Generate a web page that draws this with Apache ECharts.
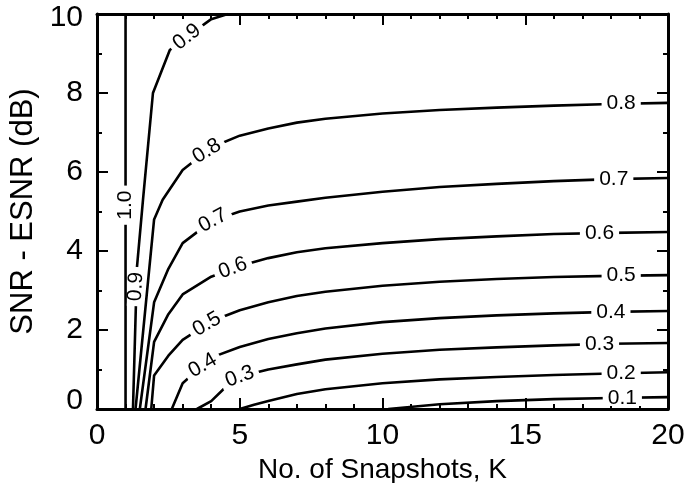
<!DOCTYPE html>
<html><head><meta charset="utf-8">
<script src="https://cdn.jsdelivr.net/npm/echarts@6/dist/echarts.min.js"></script>
<style>html,body{margin:0;padding:0;background:#fff}#c{width:686px;height:483px}</style>
</head><body><div id="c"></div>
<script>
// Contour lines: K (snapshots) and SNR-ESNR (dB) values per level
const K_10 = [1, 1];
const Y_10 = [0, 10];
const K_09 = [1.26, 1.40, 1.61, 1.96, 2.55, 3, 4, 4.58];
const Y_09 = [0, 3.59, 5.29, 8.0, 9.09, 9.34, 9.87, 10];
const K_08 = [1.35, 2, 2.3, 3, 4, 5, 6, 7, 8, 10, 12, 14, 16, 18, 20];
const Y_08 = [0, 4.8, 5.3, 6.05, 6.62, 6.92, 7.1, 7.25, 7.35, 7.48, 7.57, 7.63, 7.68, 7.72, 7.75];
const K_07 = [1.5, 2, 2.5, 3, 4, 5, 6, 7, 8, 10, 12, 14, 16, 18, 20];
const Y_07 = [0, 2.7, 3.55, 4.2, 4.75, 5.0, 5.15, 5.25, 5.35, 5.5, 5.62, 5.7, 5.77, 5.82, 5.85];
const K_06 = [1.7, 2, 2.5, 3, 4, 5, 6, 7, 8, 10, 12, 14, 16, 18, 20];
const Y_06 = [0, 1.7, 2.4, 2.9, 3.35, 3.62, 3.82, 3.97, 4.07, 4.2, 4.3, 4.37, 4.43, 4.46, 4.48];
const K_05 = [1.9, 2, 2.5, 3, 4, 5, 6, 7, 8, 10, 12, 14, 16, 18, 20];
const Y_05 = [0, 0.85, 1.35, 1.75, 2.22, 2.5, 2.7, 2.86, 2.97, 3.12, 3.22, 3.29, 3.34, 3.37, 3.39];
const K_04 = [2.62, 3, 4, 5, 6, 7, 8, 10, 12, 14, 16, 18, 20];
const Y_04 = [0, 0.65, 1.3, 1.57, 1.77, 1.92, 2.04, 2.2, 2.3, 2.37, 2.42, 2.46, 2.48];
const K_03 = [3.5, 4, 4.5, 5, 6, 7, 8, 10, 12, 14, 16, 18, 20];
const Y_03 = [0, 0.2, 0.55, 0.82, 1.0, 1.13, 1.25, 1.4, 1.5, 1.56, 1.61, 1.65, 1.67];
const K_02 = [5, 5.5, 6, 7, 8, 10, 12, 14, 16, 18, 20];
const Y_02 = [0, 0.11, 0.2, 0.38, 0.5, 0.65, 0.75, 0.81, 0.86, 0.9, 0.93];
const K_01 = [10.2, 12, 14, 16, 18, 20];
const Y_01 = [0, 0.12, 0.2, 0.25, 0.28, 0.3];

// Contour label annotations
const labText = ['1.0', '0.9', '0.9', '0.8', '0.7', '0.6', '0.5', '0.4', '0.3',
                 '0.8', '0.7', '0.6', '0.5', '0.4', '0.3', '0.2', '0.1'];
const labK =    [1.0, 1.36, 3.15, 3.85, 4.06, 4.76, 3.85, 3.7, 5.0,
                 18.36, 18.1, 17.6, 18.36, 18.0, 17.6, 18.36, 18.4];
const labY =    [5.16, 3.1, 9.42, 6.53, 4.77, 3.57, 2.15, 1.1, 0.82,
                 7.73, 5.83, 4.46, 3.38, 2.46, 1.64, 0.9, 0.28];
const labRot =  [90, 87, 38, 32, 28, 20, 30, 30, 20,
                 0, 0, 0, 0, 0, 0, 0, 0];

const xTicks = [0, 5, 10, 15, 20];
const yTicks = [0, 2, 4, 6, 8, 10];

const FONT = '"Liberation Sans", Arial, Helvetica, sans-serif';

const contours = [
  [K_10, Y_10], [K_09, Y_09], [K_08, Y_08], [K_07, Y_07], [K_06, Y_06],
  [K_05, Y_05], [K_04, Y_04], [K_03, Y_03], [K_02, Y_02], [K_01, Y_01]
];

const series = contours.map(([ks, ys]) => ({
  type: 'line',
  data: ks.map((k, i) => [k, ys[i]]),
  showSymbol: false,
  symbol: 'none',
  silent: true,
  clip: true,
  lineStyle: { color: '#000', width: 2.6 },
  z: 2
}));

series.push({
  type: 'scatter',
  symbolSize: 0,
  silent: true,
  z: 5,
  itemStyle: { opacity: 1, color: '#000' },
  data: labText.map((t, i) => ({
    value: [labK[i], labY[i]],
    label: {
      show: true,
      position: 'inside',
      formatter: t,
      rotate: labRot[i],
      color: '#000',
      opacity: 1,
      fontSize: 21,
      fontFamily: FONT,
      lineHeight: 16,
      backgroundColor: '#fff',
      padding: [0, 5]
    }
  }))
});

const axisCommon = {
  axisLine: { show: true, onZero: false, lineStyle: { color: '#000', width: 3 } },
  axisTick: { show: true, inside: true, length: 11, lineStyle: { color: '#000', width: 2 } },
  minorTick: { show: true, length: 5, lineStyle: { color: '#000', width: 2 } },
  splitLine: { show: false },
  minorSplitLine: { show: false }
};

const chart = echarts.init(document.getElementById('c'), null, { renderer: 'canvas' });
chart.setOption({
  backgroundColor: '#fff',
  animation: false,
  grid: { left: 97, right: 18, top: 14, bottom: 74, containLabel: false, outerBoundsMode: 'none' },
  xAxis: [
    Object.assign({}, axisCommon, {
      type: 'value', position: 'bottom', min: xTicks[0], max: xTicks[xTicks.length - 1], interval: 5,
      minorTick: Object.assign({}, axisCommon.minorTick, { splitNumber: 5 }),
      axisLabel: { color: '#000', fontSize: 30, fontFamily: FONT, margin: 12 },
      name: 'No. of Snapshots, K', nameLocation: 'middle', nameGap: 41,
      nameTextStyle: { color: '#000', fontSize: 28, fontFamily: FONT }
    }),
    Object.assign({}, axisCommon, {
      type: 'value', position: 'top', min: xTicks[0], max: xTicks[xTicks.length - 1], interval: 5,
      minorTick: Object.assign({}, axisCommon.minorTick, { splitNumber: 5 }),
      axisLabel: { show: false }
    })
  ],
  yAxis: [
    Object.assign({}, axisCommon, {
      type: 'value', position: 'left', min: yTicks[0], max: yTicks[yTicks.length - 1], interval: 2,
      minorTick: Object.assign({}, axisCommon.minorTick, { splitNumber: 2 }),
      axisLabel: {
        color: '#000', fontSize: 30, fontFamily: FONT, margin: 14,
        formatter: v => v === 0 ? '{lo|0}' : (v === 10 ? '{hi|10}' : String(v)),
        rich: {
          lo: { fontSize: 30, fontFamily: FONT, color: '#000', padding: [0, 0, 16, 0] },
          hi: { fontSize: 30, fontFamily: FONT, color: '#000', padding: [8, 0, 0, 0] }
        }
      },
      name: 'SNR - ESNR (dB)', nameLocation: 'middle', nameGap: 50, nameRotate: 90,
      nameTextStyle: { color: '#000', fontSize: 31, fontFamily: FONT }
    }),
    Object.assign({}, axisCommon, {
      type: 'value', position: 'right', min: yTicks[0], max: yTicks[yTicks.length - 1], interval: 2,
      minorTick: Object.assign({}, axisCommon.minorTick, { splitNumber: 2 }),
      axisLabel: { show: false }
    })
  ],
  series: series
});
</script>
</body></html>
